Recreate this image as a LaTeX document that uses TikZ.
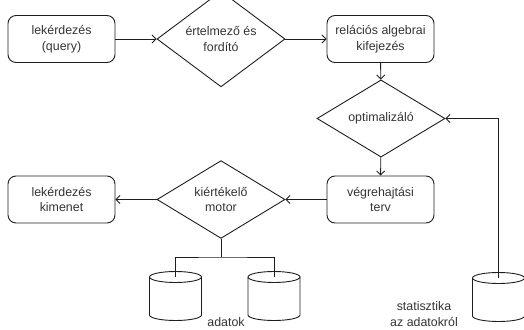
\documentclass[tikz,border=0pt]{standalone}
\usepackage{fontspec}
\setmainfont{Liberation Sans}
\usetikzlibrary{shapes.geometric,arrows.meta}
\definecolor{linegray}{HTML}{1E1E1E}
\definecolor{textgray}{HTML}{333333}
\tikzset{
  dbstore/.pic={
    \draw[line width=0.9pt, draw=linegray]
      (-26,0) -- (-26,38) arc[start angle=180, end angle=360, x radius=26pt, y radius=5.5pt] -- (26,0);
    \draw[line width=0.9pt, draw=linegray] (0,0) ellipse[x radius=26pt, y radius=5.5pt];
    \coordinate (-top) at (0,0);
  }
}
\begin{document}
\begin{tikzpicture}[x=1pt, y=-1pt,
  every node/.style={font=\fontsize{12.4}{15.5}\selectfont, text=textgray},
  procbox/.style={draw=linegray, line width=0.9pt, rounded corners=8pt,
    minimum width=107pt, minimum height=47pt, inner sep=0pt, align=center},
  decision/.style={draw=linegray, line width=0.9pt, diamond,
    minimum width=128pt, minimum height=63pt, inner sep=0pt, align=center},
  flow/.style={draw=linegray, line width=0.9pt, -{Straight Barb[length=4pt, width=8pt]}},
  link/.style={draw=linegray, line width=0.9pt},
  caption/.style={align=center, inner sep=0pt}
]
\useasboundingbox (0,0) rectangle (524,329);

% first row: query -> parser -> relational algebra
\node[procbox] (query) at (61.5,39) {lekérdezés\\(query)};
\node[decision] (parser) at (221,39) {értelmező és\\fordító};
\node[procbox] (relalg) at (380.5,39) {relációs algebrai\\kifejezés};

% optimiser
\node[decision] (optim) at (381,118.5) {optimalizáló};

% second row: plan -> evaluation engine -> output
\node[procbox] (plan) at (380.5,199.5) {végrehajtási\\terv};
\node[decision] (engine) at (221,199.5) {kiértékelő\\motor};
\node[procbox] (output) at (61.5,199.5) {lekérdezés\\kimenet};

% data stores
\pic (data1) at (175.5,277) {dbstore};
\pic (data2) at (274,277) {dbstore};
\pic (stats) at (498.5,278) {dbstore};
\coordinate (fork) at (221,257);

\node[caption] (datalabel) at (226,322.5) {adatok};
\node[caption] (statlabel) at (424,314) {statisztika\\az adatokról};

% connectors
\draw[flow] (query) -- (parser);
\draw[flow] (parser) -- (relalg);
\draw[flow] (relalg) -- (optim);
\draw[flow] (optim) -- (plan);
\draw[flow] (plan) -- (engine);
\draw[flow] (engine) -- (output);
\draw[flow] (stats-top) |- (optim.east);
\draw[link] (engine.south) -- (fork);
\draw[link] (data1-top) |- (fork) -| (data2-top);
\end{tikzpicture}
\end{document}
